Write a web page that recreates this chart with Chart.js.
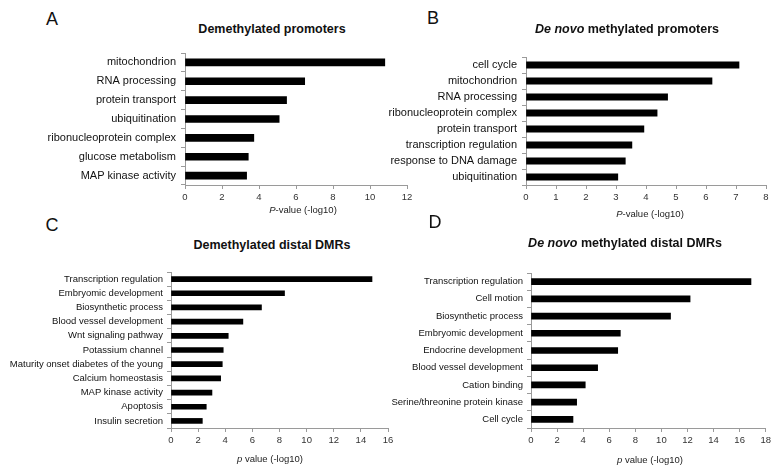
<!DOCTYPE html>
<html>
<head>
<meta charset="utf-8">
<script src="https://cdn.jsdelivr.net/npm/chart.js@4.4.0/dist/chart.umd.min.js"></script>
<style>
  body { margin: 0; background: #fff; }
  #page { position: relative; width: 774px; height: 468px; overflow: hidden; font-family: "Liberation Sans", Arial, sans-serif; color: #111; }
  canvas { position: absolute; }
  .txt { position: absolute; transform: translate(-50%, -50%); white-space: nowrap; }
  .letter { font-size: 18px; }
  .title { font-size: 12.5px; font-weight: bold; }
  .axt { font-size: 9.5px; color: #222; }
</style>
</head>
<body>
<div id="page">
  <canvas id="chartA" width="425" height="170" style="left:0;top:40px"></canvas>
  <canvas id="chartB" width="394" height="170" style="left:380px;top:40px"></canvas>
  <canvas id="chartC" width="400" height="193" style="left:0;top:260px"></canvas>
  <canvas id="chartD" width="384" height="193" style="left:390px;top:260px"></canvas>

  <div class="txt letter" style="left:52px;top:19px">A</div>
  <div class="txt letter" style="left:433px;top:18px">B</div>
  <div class="txt letter" style="left:52px;top:225px">C</div>
  <div class="txt letter" style="left:435px;top:222px">D</div>

  <div class="txt title" style="left:272px;top:29px">Demethylated promoters</div>
  <div class="txt title" style="left:627px;top:29px"><i>De novo</i> methylated promoters</div>
  <div class="txt title" style="left:272px;top:245px">Demethylated distal DMRs</div>
  <div class="txt title" style="left:625px;top:243px"><i>De novo</i> methylated distal DMRs</div>

  <div class="txt axt" style="left:303px;top:209px"><i>P</i>-value (-log10)</div>
  <div class="txt axt" style="left:650px;top:213px"><i>P</i>-value (-log10)</div>
  <div class="txt axt" style="left:270px;top:458px"><i>p</i> value (-log10)</div>
  <div class="txt axt" style="left:650px;top:459px"><i>p</i> value (-log10)</div>
</div>
<script>
// Panel A - demethylated promoters
const catsA = ['mitochondrion', 'RNA processing', 'protein transport', 'ubiquitination',
  'ribonucleoprotein complex', 'glucose metabolism', 'MAP kinase activity'];
const valsA = [10.8, 6.47, 5.49, 5.09, 3.72, 3.42, 3.33];

// Panel B - de novo methylated promoters
const catsB = ['cell cycle', 'mitochondrion', 'RNA processing', 'ribonucleoprotein complex',
  'protein transport', 'transcription regulation', 'response to DNA damage', 'ubiquitination'];
const valsB = [7.1, 6.2, 4.72, 4.37, 3.93, 3.53, 3.31, 3.06];

// Panel C - demethylated distal DMRs
const catsC = ['Transcription regulation', 'Embryomic development', 'Biosynthetic process',
  'Blood vessel development', 'Wnt signaling pathway', 'Potassium channel',
  'Maturity onset diabetes of the young', 'Calcium homeostasis', 'MAP kinase activity',
  'Apoptosis', 'Insulin secretion'];
const valsC = [14.82, 8.37, 6.67, 5.3, 4.22, 3.85, 3.78, 3.66, 3.02, 2.6, 2.31];

// Panel D - de novo methylated distal DMRs
const catsD = ['Transcription regulation', 'Cell motion', 'Biosynthetic process',
  'Embryomic development', 'Endocrine development', 'Blood vessel development',
  'Cation binding', 'Serine/threonine protein kinase', 'Cell cycle'];
const valsD = [16.87, 12.2, 10.7, 6.85, 6.65, 5.11, 4.16, 3.5, 3.22];

// x axis limits / steps
const xMaxA = 12, xStepA = 2;
const xMaxB = 8, xStepB = 1;
const xMaxC = 16, xStepC = 2;
const xMaxD = 18, xStepD = 2;

const axisGray = '#9a9a9a';
const fontFam = '"Liberation Sans", Arial, sans-serif';

function makeChart(id, cats, vals, xMax, xStep, opts) {
  const ctx = document.getElementById(id).getContext('2d');
  return new Chart(ctx, {
    type: 'bar',
    data: {
      labels: cats,
      datasets: [{
        data: vals,
        backgroundColor: '#000',
        borderWidth: 0,
        barThickness: opts.bar
      }]
    },
    options: {
      indexAxis: 'y',
      responsive: false,
      animation: false,
      devicePixelRatio: 1,
      layout: { padding: { top: opts.top, right: opts.right, left: 0, bottom: 0 } },
      plugins: { legend: { display: false }, tooltip: { enabled: false } },
      scales: {
        x: {
          min: 0,
          max: xMax,
          afterFit: function(scale) { scale.height = 25; },
          grid: { drawOnChartArea: false, drawTicks: true, tickLength: 4, color: axisGray },
          border: { color: axisGray },
          ticks: { stepSize: xStep, color: '#333', padding: 3, font: { family: fontFam, size: 9.5 } }
        },
        y: {
          afterFit: function(scale) { scale.width = opts.yw; },
          grid: { drawOnChartArea: false, drawTicks: true, tickLength: 4, color: axisGray },
          border: { color: axisGray },
          ticks: { color: '#111', padding: opts.lpad, autoSkip: false, font: { family: fontFam, size: opts.fs } }
        }
      }
    }
  });
}

makeChart('chartA', catsA, valsA, xMaxA, xStepA, { bar: 7, top: 13, right: 18, yw: 185, fs: 11, lpad: 5 });
makeChart('chartB', catsB, valsB, xMaxB, xStepB, { bar: 6.5, top: 17, right: 8, yw: 146, fs: 11, lpad: 5 });
makeChart('chartC', catsC, valsC, xMaxC, xStepC, { bar: 5, top: 12, right: 12, yw: 171, fs: 9.5, lpad: 4 });
makeChart('chartD', catsD, valsD, xMaxD, xStepD, { bar: 6, top: 13, right: 5, yw: 141, fs: 9.5, lpad: 4 });
</script>
</body>
</html>
